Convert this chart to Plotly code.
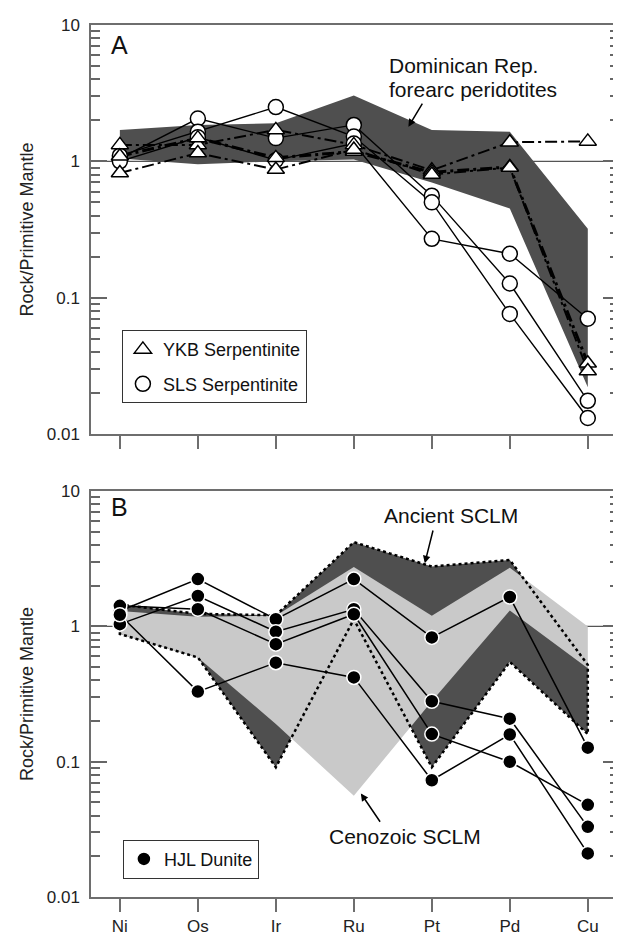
import plotly.graph_objects as go

# ---------------- data ----------------
elements = ["Ni", "Os", "Ir", "Ru", "Pt", "Pd", "Cu"]

# Panel A: Dominican Rep. forearc peridotites field
dr_upper = [1.70, 1.85, 1.90, 3.04, 1.70, 1.65, 0.32]
dr_lower = [1.05, 0.95, 1.00, 1.03, 0.70, 0.45, 0.022]

# Panel A: YKB serpentinite (triangles)
ykb_1 = [1.32, 1.32, 1.70, 1.32, 0.86, 1.38, 1.40]
ykb_2 = [1.09, 1.48, 1.06, 1.18, 0.83, 0.91, 0.033]
ykb_3 = [0.82, 1.15, 0.87, 1.22, 0.80, 0.90, 0.029]

# Panel A: SLS serpentinite (circles)
sls_1 = [1.05, 2.06, 1.48, 1.85, 0.56, 0.127, 0.0175]
sls_2 = [1.10, 1.65, 2.50, 1.52, 0.50, 0.076, 0.0131]
sls_3 = [1.00, 1.50, 1.02, 1.35, 0.27, 0.21, 0.070]

# Panel B: fields
ancient_upper = [1.45, 1.24, 1.21, 4.20, 2.77, 3.10, 0.52]
ancient_lower = [0.88, 0.59, 0.091, 1.13, 0.091, 0.546, 0.16]
cenozoic_upper = [1.30, 1.18, 1.20, 2.75, 1.20, 2.72, 1.00]
cenozoic_lower = [0.88, 0.59, 0.19, 0.056, 0.28, 1.31, 0.49]

# Panel B: HJL dunite
hjl_1 = [1.30, 2.24, 1.13, 2.24, 0.83, 1.65, 0.127]
hjl_2 = [1.04, 1.68, 0.915, 1.34, 0.28, 0.208, 0.033]
hjl_3 = [1.42, 1.34, 0.74, 1.23, 0.16, 0.10, 0.048]
hjl_4 = [1.22, 0.33, 0.54, 0.42, 0.073, 0.159, 0.021]

ytick_vals = [0.01, 0.1, 1, 10]
ytick_text = ["0.01", "0.1", "1", "10"]
minor_vals = [m * d for d in (0.01, 0.1, 1) for m in range(2, 10)]

FONT = "Liberation Sans, Arial, sans-serif"
AXC = "#6e6e6e"
TICKC = "#666666"
DARK = "#4f4f4f"
LIGHT = "#c9c9c9"

x_idx = list(range(len(elements)))

fig = go.Figure()


def band(upper, lower, color, xa, ya):
    fig.add_trace(go.Scatter(
        x=x_idx + x_idx[::-1], y=upper + lower[::-1],
        mode="lines", fill="toself", fillcolor=color,
        line=dict(width=0, color=color), hoverinfo="skip",
        showlegend=False, xaxis=xa, yaxis=ya))


def series_line(vals, xa, ya, width=1.5, dash="solid"):
    fig.add_trace(go.Scatter(
        x=x_idx, y=vals, mode="lines",
        line=dict(color="black", width=width, dash=dash),
        hoverinfo="skip", showlegend=False, xaxis=xa, yaxis=ya))


def series_marks(vals, xa, ya, symbol, size, fill, edge):
    fig.add_trace(go.Scatter(
        x=x_idx, y=vals, mode="markers",
        marker=dict(symbol=symbol, size=size, color=fill,
                    line=dict(color=edge, width=1.5)),
        showlegend=False, xaxis=xa, yaxis=ya))


# ---------- Panel A ----------
band(dr_upper, dr_lower, DARK, "x", "y")
for s in (sls_1, sls_2, sls_3):
    series_line(s, "x", "y", 1.4)
DD = "12px,4px,3px,4px"
series_line(ykb_1, "x", "y", 2.0, DD)
series_line(ykb_2, "x", "y", 3.0, DD)
series_line(ykb_3, "x", "y", 2.0, DD)
for s in (sls_1, sls_2, sls_3):
    series_marks(s, "x", "y", "circle", 15, "white", "black")
for s in (ykb_1, ykb_2, ykb_3):
    series_marks(s, "x", "y", "triangle-up", 15, "white", "black")

# ---------- Panel B ----------
band(ancient_upper, ancient_lower, DARK, "x2", "y2")
band(cenozoic_upper, cenozoic_lower, LIGHT, "x2", "y2")
fig.add_trace(go.Scatter(
    x=x_idx + x_idx[::-1] + [x_idx[0]],
    y=ancient_upper + ancient_lower[::-1] + [ancient_upper[0]],
    mode="lines", line=dict(color="black", width=2.5, dash="dot"),
    hoverinfo="skip", showlegend=False, xaxis="x2", yaxis="y2"))
for s in (hjl_1, hjl_2, hjl_3, hjl_4):
    series_line(s, "x2", "y2", 1.5)
for s in (hjl_1, hjl_2, hjl_3, hjl_4):
    series_marks(s, "x2", "y2", "circle", 14, "black", "white")

# ---------- legend entries ----------
fig.add_trace(go.Scatter(
    x=[None], y=[None], mode="markers", name="YKB Serpentinite",
    marker=dict(symbol="triangle-up", size=15, color="white",
                line=dict(color="black", width=1.5)),
    legend="legend", legendgroup="g1", xaxis="x", yaxis="y"))
fig.add_trace(go.Scatter(
    x=[None], y=[None], mode="markers", name="SLS Serpentinite",
    marker=dict(symbol="circle", size=15, color="white",
                line=dict(color="black", width=1.5)),
    legend="legend", legendgroup="g2", xaxis="x", yaxis="y"))
fig.add_trace(go.Scatter(
    x=[None], y=[None], mode="markers", name="HJL Dunite",
    marker=dict(symbol="circle", size=14, color="black",
                line=dict(color="white", width=1.5)),
    legend="legend2", legendgroup="g3", xaxis="x2", yaxis="y2"))


# ---------- axes ----------
def yaxis(domain, anchor):
    return dict(
        type="log", range=[-2, 1], domain=domain, anchor=anchor,
        tickvals=ytick_vals, ticktext=ytick_text,
        ticks="inside", ticklen=16, tickwidth=1.5, tickcolor=TICKC,
        showline=True, linecolor=AXC, linewidth=1.5, mirror="ticks",
        showgrid=False, zeroline=False,
        minor=dict(ticks="inside", ticklen=9, tickwidth=1.5,
                   tickcolor=TICKC, tickvals=minor_vals, showgrid=False),
        tickfont=dict(size=17, color="#222", family=FONT),
        ticklabelstandoff=6,
        title=dict(text="Rock/Primitive Mantle",
                   font=dict(size=18, color="#222", family=FONT), standoff=8),
    )


def xaxis(anchor, labels):
    return dict(
        range=[-0.37, 6.40], anchor=anchor, domain=[0, 1],
        tickvals=x_idx, ticktext=elements, showticklabels=labels,
        ticks="outside", ticklen=13, tickwidth=1.5, tickcolor=AXC,
        showline=True, linecolor=AXC, linewidth=1.5, mirror=True,
        showgrid=False, zeroline=False,
        tickfont=dict(size=17, color="#222", family=FONT),
    )


shapes = []
for xr, yr in (("x domain", "y"), ("x2 domain", "y2")):
    shapes.append(dict(type="line", xref=xr, yref=yr, x0=0, x1=1, y0=1, y1=1,
                       line=dict(color="#555", width=1.2), layer="below"))

ann_font = dict(size=21, color="#111", family=FONT)
annotations = [
    dict(x=0, y=0.855, xref="x", yref="y", text="A", showarrow=False,
         font=dict(size=25, color="#111", family=FONT), xanchor="center", yanchor="middle"),
    dict(x=3.42, y=0.70, xref="x", yref="y", text="Dominican Rep.", showarrow=False,
         font=ann_font, xanchor="left", yanchor="middle"),
    dict(x=3.42, y=0.525, xref="x", yref="y", text="forearc peridotites", showarrow=False,
         font=ann_font, xanchor="left", yanchor="middle"),
    dict(x=3.70, y=0.254, ax=3.89, ay=0.435, xref="x", yref="y", axref="x", ayref="y",
         text="", showarrow=True, arrowhead=2, arrowsize=1, arrowwidth=1.5, arrowcolor="black"),
    dict(x=0, y=0.883, xref="x2", yref="y2", text="B", showarrow=False,
         font=dict(size=25, color="#111", family=FONT), xanchor="center", yanchor="middle"),
    dict(x=3.36, y=0.82, xref="x2", yref="y2", text="Ancient SCLM", showarrow=False,
         font=ann_font, xanchor="left", yanchor="middle"),
    dict(x=3.91, y=0.467, ax=4.02, ay=0.72, xref="x2", yref="y2", axref="x2", ayref="y2",
         text="", showarrow=True, arrowhead=2, arrowsize=1, arrowwidth=1.5, arrowcolor="black"),
    dict(x=2.66, y=-1.553, xref="x2", yref="y2", text="Cenozoic SCLM", showarrow=False,
         font=ann_font, xanchor="left", yanchor="middle"),
    dict(x=3.09, y=-1.234, ax=3.35, ay=-1.455, xref="x2", yref="y2", axref="x2", ayref="y2",
         text="", showarrow=True, arrowhead=2, arrowsize=1, arrowwidth=1.5, arrowcolor="black"),
]

leg_common = dict(xanchor="left", yanchor="top", bgcolor="white",
                  bordercolor="#333", borderwidth=1,
                  font=dict(size=18, color="#111", family=FONT),
                  tracegroupgap=8, itemwidth=30)

fig.update_layout(
    width=621, height=936, autosize=False,
    margin=dict(l=83, r=8, t=15, b=38),
    paper_bgcolor="white", plot_bgcolor="white",
    font=dict(family=FONT, color="#111"),
    xaxis=xaxis("y", False),
    yaxis=yaxis([0.531, 1.0], "x"),
    xaxis2=xaxis("y2", True),
    yaxis2=yaxis([0.0, 0.4654], "x2"),
    legend=dict(x=0.0585, y=0.6500, **leg_common),
    legend2=dict(x=0.0604, y=0.0657, **leg_common),
    annotations=annotations,
    shapes=shapes,
    showlegend=True,
)

fig.write_html("out.html")
